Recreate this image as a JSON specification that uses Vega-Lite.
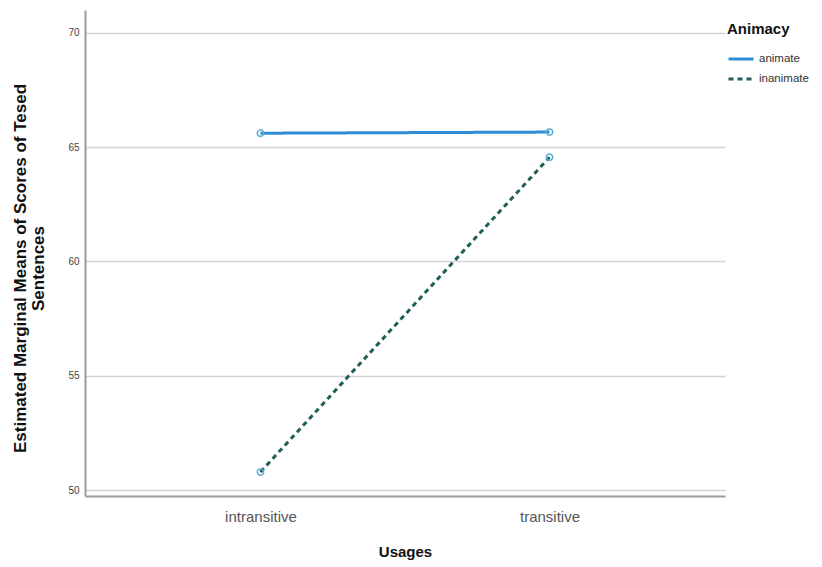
{
  "$schema": "https://vega.github.io/schema/vega-lite/v6.json",
  "autosize": {"type": "none"},
  "padding": {"left": 85, "top": 10, "right": 97, "bottom": 71},
  "width": 640,
  "height": 486,
  "background": "white",
  "config": {
    "view": {"stroke": null},
    "font": "Liberation Sans"
  },
  "data": {
    "values": [
      {"Usages": "intransitive", "Animacy": "animate", "Mean": 65.61},
      {"Usages": "transitive", "Animacy": "animate", "Mean": 65.66},
      {"Usages": "intransitive", "Animacy": "inanimate", "Mean": 50.79},
      {"Usages": "transitive", "Animacy": "inanimate", "Mean": 64.56}
    ]
  },
  "encoding": {
    "x": {
      "field": "Usages", "type": "ordinal",
      "scale": {"type": "point", "padding": 0.607},
      "axis": {
        "title": "Usages", "titleFont": "Liberation Sans", "titleFontSize": 15, "titleFontWeight": "bold",
        "titleColor": "#111", "titlePadding": 20,
        "labelAngle": 0, "labelFontSize": 15, "labelColor": "#555", "labelPadding": 13,
        "ticks": false, "grid": false, "domainColor": "#9a9a9a", "domainWidth": 2
      }
    },
    "y": {
      "field": "Mean", "type": "quantitative",
      "scale": {"domain": [49.74, 71.0], "nice": false, "zero": false},
      "axis": {
        "title": ["Estimated Marginal Means of Scores of Tesed", "Sentences"],
        "titleFont": "Liberation Sans", "titleFontSize": 17, "titleFontWeight": "bold", "titleColor": "#111",
        "titlePadding": 20, "titleLineHeight": 18, "titleY": 258,
        "values": [50, 55, 60, 65, 70],
        "labelFontSize": 10, "labelColor": "#444", "labelPadding": 6,
        "ticks": false, "grid": true, "gridColor": "#d4d4d4", "gridWidth": 1.5,
        "domainColor": "#9a9a9a", "domainWidth": 2
      }
    },
    "color": {
      "field": "Animacy", "type": "nominal",
      "scale": {"domain": ["animate", "inanimate"], "range": ["#2f8ed3", "#1f5e5a"]},
      "legend": {
        "title": "Animacy", "titleFontSize": 15, "titleFontWeight": "bold", "titleColor": "#111",
        "orient": "none", "legendX": 642, "legendY": 12,
        "symbolType": "stroke", "symbolSize": 625, "symbolStrokeWidth": 3,
        "labelFontSize": 11.5, "labelColor": "#333", "labelOffset": 4, "rowPadding": -13, "titlePadding": 8
      }
    },
    "strokeDash": {
      "field": "Animacy", "type": "nominal",
      "scale": {"domain": ["animate", "inanimate"], "range": [[1, 0], [5, 4]]},
      "legend": null
    }
  },
  "layer": [
    {"mark": {"type": "line", "strokeWidth": 3}},
    {"mark": {"type": "point", "shape": "circle", "filled": false, "size": 40, "strokeWidth": 1.5, "opacity": 1, "color": "#5aaed8"},
     "encoding": {"strokeDash": {"value": [1, 0]}, "color": {"value": "#5aaed8"}}}
  ]
}
